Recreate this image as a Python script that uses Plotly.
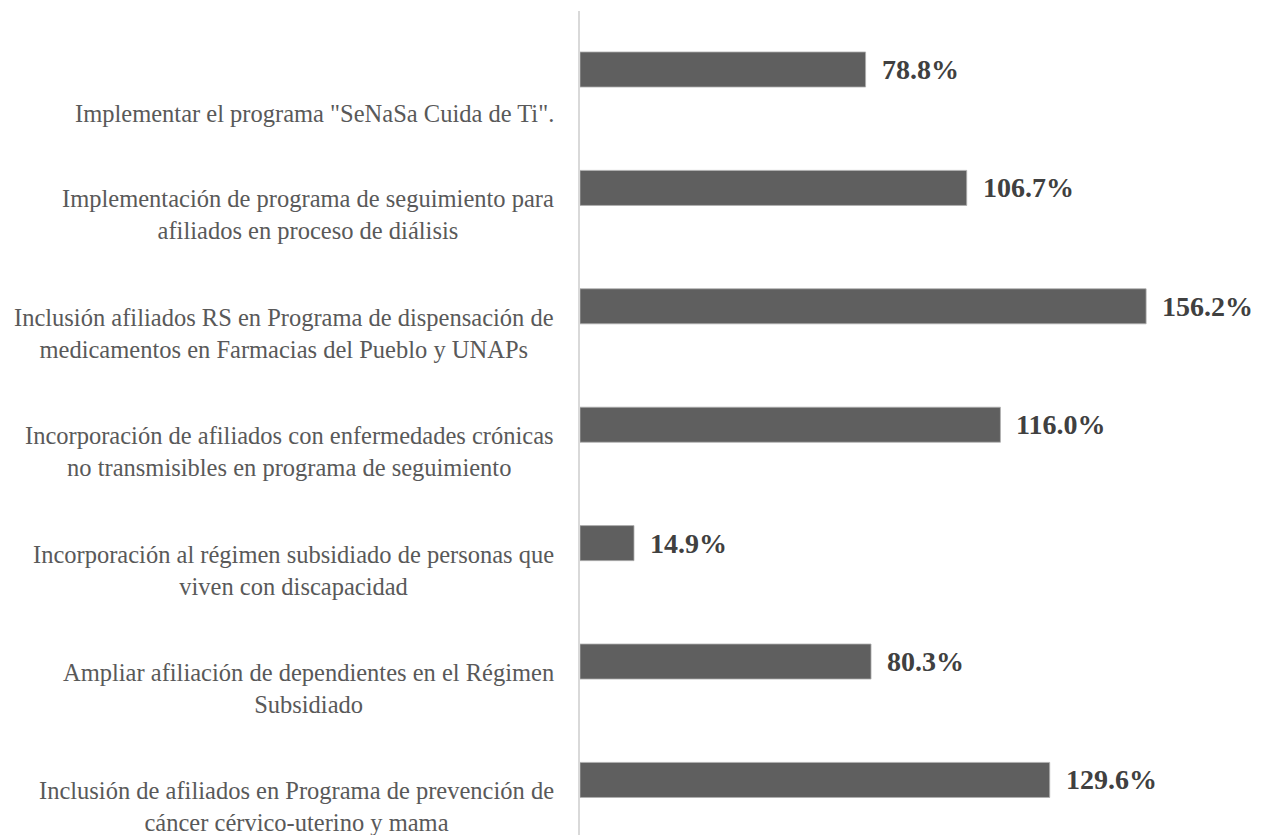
import plotly.graph_objects as go

categories = [
    "Implementar el programa \"SeNaSa Cuida de Ti\".",
    "Implementación de programa de seguimiento para<br>afiliados en proceso de diálisis",
    "Inclusión afiliados RS en Programa de dispensación de<br>medicamentos en Farmacias del Pueblo y UNAPs",
    "Incorporación de afiliados con enfermedades crónicas<br>no transmisibles en programa de seguimiento",
    "Incorporación al régimen subsidiado de personas que<br>viven con discapacidad",
    "Ampliar afiliación de dependientes en el Régimen<br>Subsidiado",
    "Inclusión de afiliados en Programa de prevención de<br>cáncer cérvico-uterino y mama",
]
values = [78.8, 106.7, 156.2, 116.0, 14.9, 80.3, 129.6]
value_labels = [f"{v:.1f}%" for v in values]

fig = go.Figure()
fig.add_trace(go.Bar(
    x=values,
    y=categories,
    orientation="h",
    width=0.296,
    marker=dict(color="#5f5f5f", line=dict(color="#b0b0b0", width=0.8)),
    hoverinfo="skip",
))

annotations = []
for cat, v, lab in zip(categories, values, value_labels):
    nlines = cat.count("<br>") + 1
    annotations.append(dict(
        x=v, y=cat, xref="x", yref="y", text=lab, showarrow=False,
        xanchor="left", yanchor="middle", xshift=14, yshift=0,
        font=dict(family="Liberation Serif", size=28, color="#404040", weight="bold"),
    ))
    annotations.append(dict(
        x=-0.035, y=cat, xref="paper", yref="y", text=cat, showarrow=False,
        xanchor="right", yanchor="middle", align="center",
        yshift=-27 - 17 * (2 - nlines),
        font=dict(family="Liberation Serif", size=24.5, color="#595959"),
    ))

fig.update_layout(
    width=1257, height=827,
    margin=dict(l=572, r=0, t=3, b=0),
    paper_bgcolor="white", plot_bgcolor="white",
    showlegend=False,
    annotations=annotations,
    xaxis=dict(range=[0, 189], showgrid=False, zeroline=False, showline=False,
               showticklabels=False, ticks=""),
    yaxis=dict(type="category", range=[6.465, -0.494], showgrid=False, zeroline=False,
               showline=True, linecolor="#d9d9d9", linewidth=1.5,
               showticklabels=False, ticks=""),
)

fig.write_html("out.html")
